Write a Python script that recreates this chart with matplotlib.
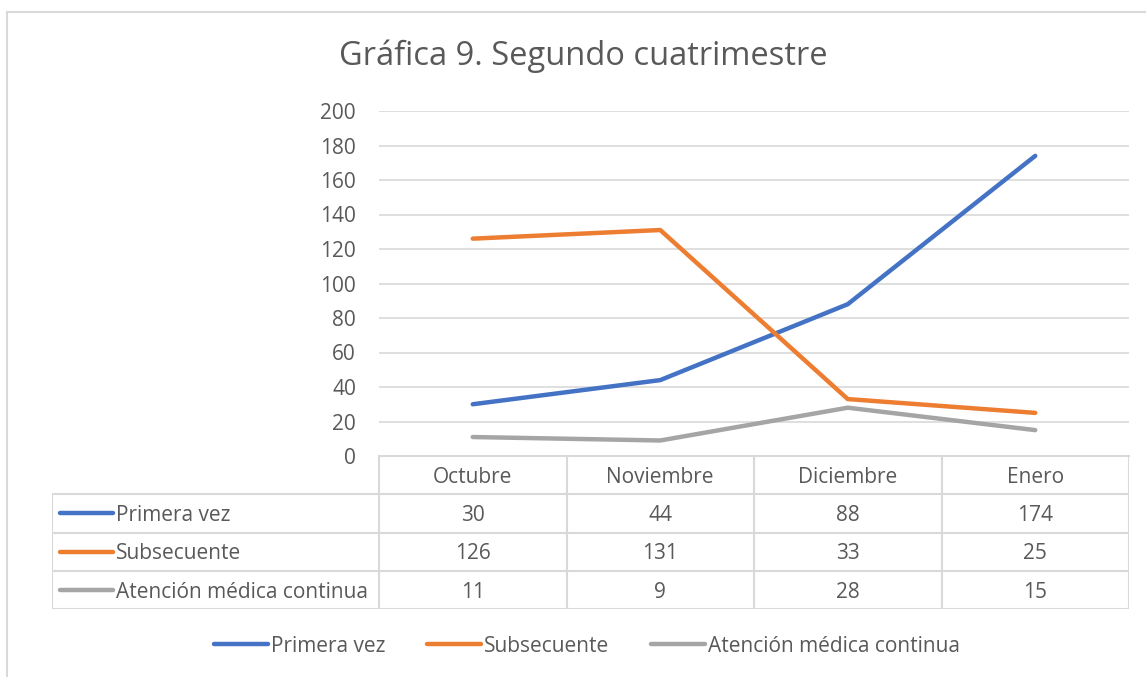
import matplotlib.pyplot as plt
from matplotlib.lines import Line2D

plt.rcParams["font.family"] = ["Open Sans", "DejaVu Sans"]

title = "Gráfica 9. Segundo cuatrimestre"
months = ["Octubre", "Noviembre", "Diciembre", "Enero"]
series_names = ["Primera vez", "Subsecuente", "Atención médica continua"]
primera_vez = [30, 44, 88, 174]
subsecuente = [126, 131, 33, 25]
atencion_continua = [11, 9, 28, 15]
y_ticks = [0, 20, 40, 60, 80, 100, 120, 140, 160, 180, 200]

colors = ["#4472C4", "#ED7D31", "#A5A5A5"]
text_color = "#595959"
grid_color = "#D9D9D9"
fs = 15

W, H = 1146, 677
fig = plt.figure(figsize=(W / 100, H / 100), dpi=100)


def px_axes(x0, y0, x1, y1):
    # pixel box (top-left origin) -> figure-fraction axes
    return fig.add_axes([x0 / W, 1 - y1 / H, (x1 - x0) / W, (y1 - y0) / H])


# Outer chart border (runs off the right and bottom edges)
fig.add_artist(Line2D([7 / W, 7 / W], [0, 1 - 12 / H], color="#D9D9D9", lw=1.5))
fig.add_artist(Line2D([7 / W, 1], [1 - 12 / H, 1 - 12 / H], color="#D9D9D9", lw=1.5))

plot_left, plot_right, plot_top, plot_bottom = 379, 1129, 111, 456
table_left, table_bottom = 52, 609

ax = px_axes(plot_left, plot_top, plot_right, plot_bottom)
x = list(range(len(months)))
all_series = [primera_vez, subsecuente, atencion_continua]
for vals, name, c in zip(all_series, series_names, colors):
    ax.plot(x, vals, color=c, lw=3.2, solid_capstyle="round", label=name, zorder=3)

ax.set_xlim(-0.5, len(months) - 0.5)
ax.set_ylim(0, 200)
ax.set_yticks(y_ticks)
ax.set_xticks([])
ax.grid(axis="y", color=grid_color, lw=1.2)
ax.set_axisbelow(True)
for s in ["top", "right", "left"]:
    ax.spines[s].set_visible(False)
ax.spines["bottom"].set_color(grid_color)
ax.spines["bottom"].set_linewidth(1.5)
ax.tick_params(axis="y", length=0, pad=16.5, labelsize=fs, labelcolor=text_color)

fig.text(583 / W, 1 - 56 / H, title, ha="center", va="center",
         fontsize=23.5, color=text_color)

# Data table below the plot, sharing the category spacing
px_per_cat = (plot_right - plot_left) / len(months)
x_left = -0.5 - (plot_left - table_left) / px_per_cat
tx = px_axes(table_left, plot_bottom, plot_right, table_bottom)
tx.set_xlim(x_left, len(months) - 0.5)
tx.set_ylim(len(series_names) + 1, 0)
tx.axis("off")

lc = dict(color=grid_color, lw=1.5, solid_capstyle="butt")
n_rows = len(series_names) + 1
for r in range(1, n_rows + 1):
    tx.plot([x_left, len(months) - 0.5], [r, r], **lc)
tx.plot([x_left, x_left], [1, n_rows], **lc)
for i in range(len(months) + 1):
    tx.plot([i - 0.5, i - 0.5], [0, n_rows], **lc)

# text sits a touch below the geometric middle of each row
mid = 0.56
for i, m in enumerate(months):
    tx.text(i, mid, m, ha="center", va="center", fontsize=fs, color=text_color)

key_x0 = x_left + 8 / px_per_cat
key_x1 = x_left + 61 / px_per_cat
for r, (vals, name, c) in enumerate(zip(all_series, series_names, colors), start=1):
    tx.plot([key_x0, key_x1], [r + 0.5, r + 0.5], color=c, lw=3.2, solid_capstyle="round")
    tx.text(key_x1 + 3 / px_per_cat, r + mid, name, ha="left", va="center",
            fontsize=fs, color=text_color)
    for i, v in enumerate(vals):
        tx.text(i, r + mid, str(v), ha="center", va="center", fontsize=fs, color=text_color)

leg = fig.legend(*ax.get_legend_handles_labels(), loc="center", ncol=3,
                 bbox_to_anchor=(587 / W, 1 - 646 / H), frameon=False,
                 fontsize=fs, handlelength=2.6, handletextpad=0.15,
                 columnspacing=2.0)
for t in leg.get_texts():
    t.set_color(text_color)

fig.savefig("out.png", dpi=100)
